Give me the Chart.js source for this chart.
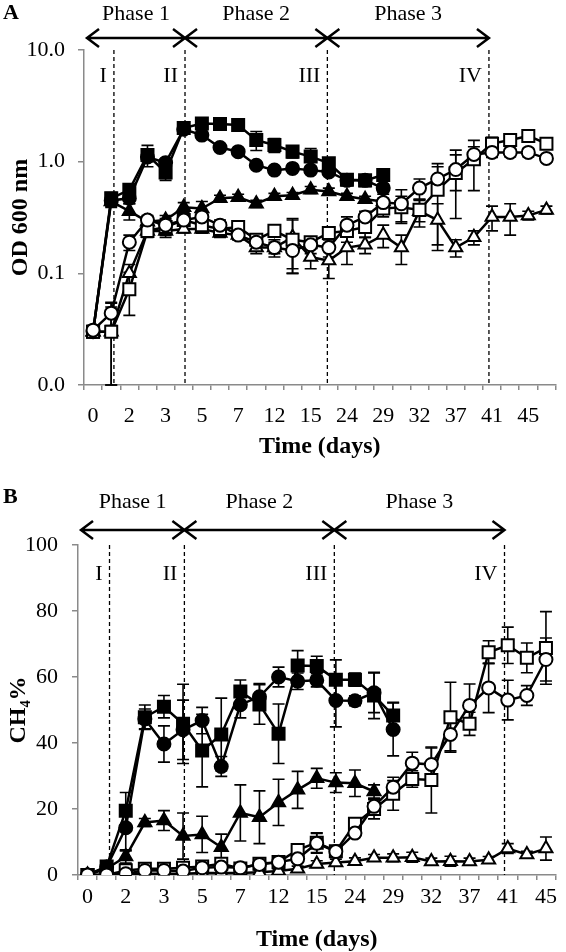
<!DOCTYPE html>
<html lang="en">
<head>
<meta charset="UTF-8">
<title>OD 600 nm and CH4 over time</title>
<script src="https://cdn.jsdelivr.net/npm/chart.js"></script>
<style>
  body { margin: 0; background: #fff; }
  canvas { position: absolute; left: 0; }
  #odChart { top: 0; }
  #ch4Chart { top: 470px; }
</style>
</head>
<body>
<canvas id="odChart" width="566" height="470"></canvas>
<canvas id="ch4Chart" width="566" height="482"></canvas>
<script>
// sampling days (only every second one is labelled on the axis)
const daysA = ['0','1','2','2.5','3','4','5','6','7','9','12','13','15','17','24','26','29','31','32','35','37','39','41','43','45','47'];
const daysB = ['0','1','2','2.5','3','4','5','6','7','9','12','13','15','17','24','26','29','31','32','35','37','39','41','43','45'];

const phaseNames = ['Phase 1', 'Phase 2', 'Phase 3'];
const stageNames = ['I', 'II', 'III', 'IV'];
const stageAt = [1.15, 5.07, 12.92, 21.83]; // category index of the dashed lines

// panel A: OD 600 nm
const odFilledSquare   = [0.03, 0.47, 0.56, 1.15, 0.80, 2.0, 2.2, 2.17, 2.13, 1.56, 1.41, 1.23, 1.11, 0.97, 0.69, 0.68, 0.76];
const odFilledCircle   = [0.03, 0.45, 0.47, 1.10, 0.98, 1.95, 1.73, 1.34, 1.23, 0.93, 0.84, 0.87, 0.84, 0.81, 0.68, 0.68, 0.58];
const odFilledTriangle = [0.03, 0.44, 0.36, 0.29, 0.30, 0.39, 0.38, 0.47, 0.48, 0.42, 0.49, 0.50, 0.56, 0.54, 0.49, 0.46, 0.44];
const odOpenSquare     = [0.03, 0.03, 0.072, 0.24, 0.26, 0.30, 0.27, 0.25, 0.26, 0.20, 0.24, 0.20, 0.19, 0.23, 0.24, 0.26, 0.38, 0.39, 0.37, 0.56, 0.79, 1.05, 1.45, 1.56, 1.70, 1.45];
const odOpenCircle     = [0.031, 0.044, 0.19, 0.30, 0.27, 0.30, 0.32, 0.27, 0.22, 0.19, 0.17, 0.16, 0.18, 0.17, 0.27, 0.32, 0.43, 0.42, 0.58, 0.70, 0.85, 1.16, 1.21, 1.21, 1.21, 1.07];
const odOpenTriangle   = [0.03, 0.03, 0.10, 0.24, 0.24, 0.25, 0.25, 0.23, 0.22, 0.17, 0.17, 0.21, 0.14, 0.13, 0.17, 0.18, 0.22, 0.17, 0.36, 0.30, 0.17, 0.21, 0.32, 0.32, 0.33, 0.37];

const odFilledSquareErr   = [0.003, 0.06, 0.05, 0.25, 0.12, 0.1, 0.1, 0.12, 0.12, 0.3, 0.2, 0.15, 0.2, 0.1, 0.08, 0.08, 0.08];
const odFilledCircleErr   = [0.003, 0.05, 0.05, 0.1, 0.08, 0.1, 0.1, 0.1, 0.08, 0.05, 0.05, 0.05, 0.05, 0.05, 0.05, 0.05, 0.05];
const odFilledTriangleErr = [0.003, 0.05, 0.06, 0.03, 0.03, 0.04, 0.06, 0.03, 0.03, 0.03, 0.03, 0.03, 0.04, 0.04, 0.03, 0.03, 0.03];
const odOpenSquareErr     = [0.003, 0.025, 0.03, 0.03, 0.05, 0.03, 0.04, 0.03, 0.03, 0.02, 0.02, 0.1, 0.02, 0.03, 0.05, 0.05, 0.06, 0.1, 0.08, 0.4, 0.48, 0.5, 0.2, 0.15, 0.15, 0.1];
const odOpenCircleErr     = [0.003, 0.01, 0.03, 0.03, 0.03, 0.03, 0.03, 0.03, 0.02, 0.03, 0.03, 0.06, 0.03, 0.03, 0.05, 0.04, 0.08, 0.14, 0.12, 0.2, 0.3, 0.2, 0.12, 0.1, 0.1, 0.08];
const odOpenTriangleErr   = [0.003, 0.02, 0.02, 0.02, 0.02, 0.02, 0.02, 0.02, 0.02, 0.02, 0.02, 0.1, 0.03, 0.04, 0.05, 0.03, 0.05, 0.05, 0.1, 0.12, 0.03, 0.03, 0.08, 0.1, 0.03, 0.03];

// panel B: CH4 %
const ch4FilledSquare   = [0, 2.6, 19.5, 47.8, 51, 45.8, 37.7, 42.6, 55.6, 51.7, 42.8, 63.5, 63.3, 59.2, 59.2, 54.4, 48.3];
const ch4FilledCircle   = [0, 2.4, 14.3, 47.3, 39.7, 44, 46.8, 32.9, 51.6, 54, 60, 58.7, 59, 52.9, 52.8, 55.2, 44.1];
const ch4FilledTriangle = [0, 1.9, 5.6, 15.9, 16.5, 11.8, 12.3, 8.4, 18.8, 17.5, 22, 25.8, 29.3, 28, 27.8, 25.3];
const ch4OpenSquare     = [0, 0, 1.4, 1.9, 1.9, 2.2, 2.6, 3.4, 2.0, 3.4, 3.9, 7.6, 9.8, 7.2, 15.5, 20, 24.6, 29.1, 28.8, 47.8, 45.8, 67.5, 69.6, 65.8, 68.8];
const ch4OpenCircle     = [0, 0, 0.4, 1.4, 1.4, 1.2, 2.2, 2.4, 2.2, 3.2, 3.9, 4.9, 9.6, 7.1, 12.7, 20.8, 26.6, 33.9, 33.5, 42.6, 51.4, 56.7, 53, 54.4, 65.3];
const ch4OpenTriangle   = [0, 0, 0.3, 0.4, 0.4, 0.4, 0.6, 0.6, 0.6, 0.8, 1.2, 1.9, 3.3, 3.8, 4.2, 5.2, 5.2, 5.4, 4.1, 4.2, 4.1, 4.6, 8.0, 6.2, 8.0];

const ch4FilledSquareErr   = [0, 1, 5.5, 3.7, 3.4, 12, 11, 11, 3.5, 6, 9, 4.5, 3, 6, 2, 7, 4];
const ch4FilledCircleErr   = [0, 1, 7, 3, 5.5, 9, 4, 3, 4, 4, 3, 2.5, 2, 8, 1.5, 6, 8];
const ch4FilledTriangleErr = [0, 0.5, 2, 1.2, 3, 7, 5.5, 4, 8.5, 8, 7, 5.6, 3, 3, 4, 2];
const ch4OpenSquareErr     = [0, 0, 0.5, 0.5, 0.5, 0.5, 0.5, 0.5, 0.5, 0.5, 0.5, 1, 3, 1, 1, 3, 5, 2.5, 10, 10.6, 3.5, 3.5, 5.5, 4.5, 11];
const ch4OpenCircleErr     = [0, 0, 0.5, 0.5, 0.5, 0.5, 0.5, 0.5, 0.5, 0.5, 0.5, 1, 3, 1, 1, 2, 2, 3.3, 5, 5, 6.5, 7.5, 6, 3, 6.5];
const ch4OpenTriangleErr   = [0, 0, 0.3, 0.3, 0.3, 0.3, 0.3, 0.3, 0.3, 0.5, 0.5, 0.8, 1, 1, 1, 1, 1.2, 1.5, 1, 1.5, 1, 1, 1.5, 1, 3.5];

Chart.defaults.font.family = '"Liberation Serif", "Times New Roman", serif';
Chart.defaults.color = '#000';
const axisGrey = '#8a8a8a';

function series(data, errors, style, filled, order) {
  return {
    data, errors, order,
    borderColor: '#000',
    borderWidth: 2.5,
    tension: 0,
    pointStyle: style,
    pointRadius: style === 'rect' ? 8.5 : (style === 'triangle' ? 7.5 : 6.5),
    pointBackgroundColor: filled ? '#000' : '#fff',
    pointBorderColor: '#000',
    pointBorderWidth: 2
  };
}

// vertical error bars with caps, drawn under the markers
const errorBars = {
  id: 'errorBars',
  beforeDatasetsDraw(chart) {
    const { ctx, scales: { x, y } } = chart;
    ctx.save();
    ctx.strokeStyle = '#000';
    ctx.lineWidth = 1.6;
    chart.data.datasets.forEach(ds => {
      (ds.errors || []).forEach((e, i) => {
        const v = ds.data[i];
        if (v == null || !e) return;
        const px = x.getPixelForValue(i);
        const lo = Math.max(v - e, y.min);
        const yTop = y.getPixelForValue(v + e);
        const yBot = y.getPixelForValue(lo);
        ctx.beginPath();
        ctx.moveTo(px, yTop); ctx.lineTo(px, yBot);
        ctx.moveTo(px - 6, yTop); ctx.lineTo(px + 6, yTop);
        ctx.moveTo(px - 6, yBot); ctx.lineTo(px + 6, yBot);
        ctx.stroke();
      });
    });
    ctx.restore();
  }
};

function drawArrow(ctx, x1, x2, y) {
  ctx.beginPath();
  ctx.moveTo(x1, y); ctx.lineTo(x2, y);
  ctx.moveTo(x1 + 12, y - 9); ctx.lineTo(x1, y); ctx.lineTo(x1 + 12, y + 9);
  ctx.moveTo(x2 - 12, y - 9); ctx.lineTo(x2, y); ctx.lineTo(x2 - 12, y + 9);
  ctx.stroke();
}

// phase arrows, dashed stage lines and panel letter
function phaseOverlay(cfg) {
  return {
    id: 'phaseOverlay',
    beforeDatasetsDraw(chart) {
      const { ctx, chartArea, scales: { x } } = chart;
      ctx.save();
      ctx.strokeStyle = '#000';
      ctx.lineWidth = 1.3;
      ctx.setLineDash([4, 3]);
      stageAt.forEach(p => {
        const px = x.getPixelForValue(p);
        ctx.beginPath();
        ctx.moveTo(px, chartArea.top);
        ctx.lineTo(px, chartArea.bottom);
        ctx.stroke();
      });
      ctx.restore();
    },
    afterDraw(chart) {
      const { ctx, chartArea, scales: { x } } = chart;
      const xs = stageAt.map(p => x.getPixelForValue(p));
      ctx.save();
      ctx.fillStyle = '#000';
      ctx.strokeStyle = '#000';
      ctx.font = '22px "Liberation Serif", serif';
      ctx.textBaseline = 'middle';
      ctx.textAlign = 'right';
      stageNames.forEach((t, k) => ctx.fillText(t, xs[k] - 7, chartArea.top + cfg.stageDy));
      const stops = [chartArea.left + 3, xs[1], xs[2], xs[3]];
      ctx.lineWidth = 2.5;
      ctx.textAlign = 'center';
      for (let k = 0; k < 3; k++) {
        drawArrow(ctx, stops[k], stops[k + 1], cfg.arrowY);
        ctx.fillText(phaseNames[k], (stops[k] + stops[k + 1]) / 2, cfg.phaseY);
      }
      ctx.font = 'bold 22px "Liberation Serif", serif';
      ctx.textAlign = 'left';
      ctx.fillText(cfg.letter, 3, cfg.letterY);
      ctx.restore();
    }
  };
}

function xAxis(height, pad, titlePad, titleLH) {
  return {
    offset: true,
    afterFit(s) { s.height = height; },
    grid: { offset: true, drawOnChartArea: false, tickLength: 5, color: axisGrey, lineWidth: 1.5 },
    border: { color: axisGrey, width: 1.5 },
    ticks: {
      autoSkip: false, maxRotation: 0, padding: pad, font: { size: 22 },
      callback(v, i) { return i % 2 === 0 ? this.getLabelForValue(v) : ''; }
    },
    title: { display: true, text: 'Time (days)', font: { size: 24, weight: 'bold', lineHeight: titleLH }, padding: { top: 0, bottom: titlePad } }
  };
}

new Chart(document.getElementById('odChart'), {
  type: 'line',
  data: {
    labels: daysA,
    datasets: [
      series(odOpenCircle, odOpenCircleErr, 'circle', false, 0),
      series(odOpenSquare, odOpenSquareErr, 'rect', false, 1),
      series(odOpenTriangle, odOpenTriangleErr, 'triangle', false, 2),
      series(odFilledTriangle, odFilledTriangleErr, 'triangle', true, 3),
      series(odFilledCircle, odFilledCircleErr, 'circle', true, 4),
      series(odFilledSquare, odFilledSquareErr, 'rect', true, 5)
    ]
  },
  options: {
    responsive: false,
    animation: false,
    devicePixelRatio: 1,
    layout: { padding: { top: 50, right: 5, left: 0, bottom: 0 } },
    plugins: { legend: { display: false }, tooltip: { enabled: false } },
    scales: {
      x: xAxis(85, 13, 9, 1.2),
      y: {
        type: 'logarithmic',
        min: 0.01,
        max: 10,
        afterFit(s) { s.width = 84; },
        afterBuildTicks(s) { s.ticks = [0.01, 0.1, 1, 10].map(v => ({ value: v })); },
        grid: { drawOnChartArea: false, tickLength: 6, color: axisGrey, lineWidth: 1.5 },
        border: { color: axisGrey, width: 1.5 },
        ticks: { padding: 13, font: { size: 22 }, callback: v => Number(v).toFixed(1) },
        title: { display: true, text: 'OD 600 nm', font: { size: 24, weight: 'bold' }, padding: { top: 6, bottom: 0 } }
      }
    }
  },
  plugins: [errorBars, phaseOverlay({ letter: 'A', letterY: 13, phaseY: 14, arrowY: 38, stageDy: 26 })]
});

new Chart(document.getElementById('ch4Chart'), {
  type: 'line',
  data: {
    labels: daysB,
    datasets: [
      series(ch4OpenCircle, ch4OpenCircleErr, 'circle', false, 0),
      series(ch4OpenSquare, ch4OpenSquareErr, 'rect', false, 1),
      series(ch4OpenTriangle, ch4OpenTriangleErr, 'triangle', false, 2),
      series(ch4FilledTriangle, ch4FilledTriangleErr, 'triangle', true, 3),
      series(ch4FilledCircle, ch4FilledCircleErr, 'circle', true, 4),
      series(ch4FilledSquare, ch4FilledSquareErr, 'rect', true, 5)
    ]
  },
  options: {
    responsive: false,
    animation: false,
    devicePixelRatio: 1,
    layout: { padding: { top: 75, right: 5, left: 0, bottom: 0 } },
    plugins: { legend: { display: false }, tooltip: { enabled: false } },
    scales: {
      x: xAxis(77, 4, 0, 1),
      y: {
        min: 0,
        max: 100,
        afterFit(s) { s.width = 78; },
        grid: { drawOnChartArea: false, tickLength: 6, color: axisGrey, lineWidth: 1.5 },
        border: { color: axisGrey, width: 1.5 },
        ticks: { stepSize: 20, padding: 14, font: { size: 22 } },
        title: { display: true, text: 'CH₄%', font: { size: 24, weight: 'bold' }, padding: { top: 4, bottom: 0 } }
      }
    }
  },
  plugins: [errorBars, phaseOverlay({ letter: 'B', letterY: 27, phaseY: 32, arrowY: 60, stageDy: 29 })]
});
</script>
</body>
</html>
